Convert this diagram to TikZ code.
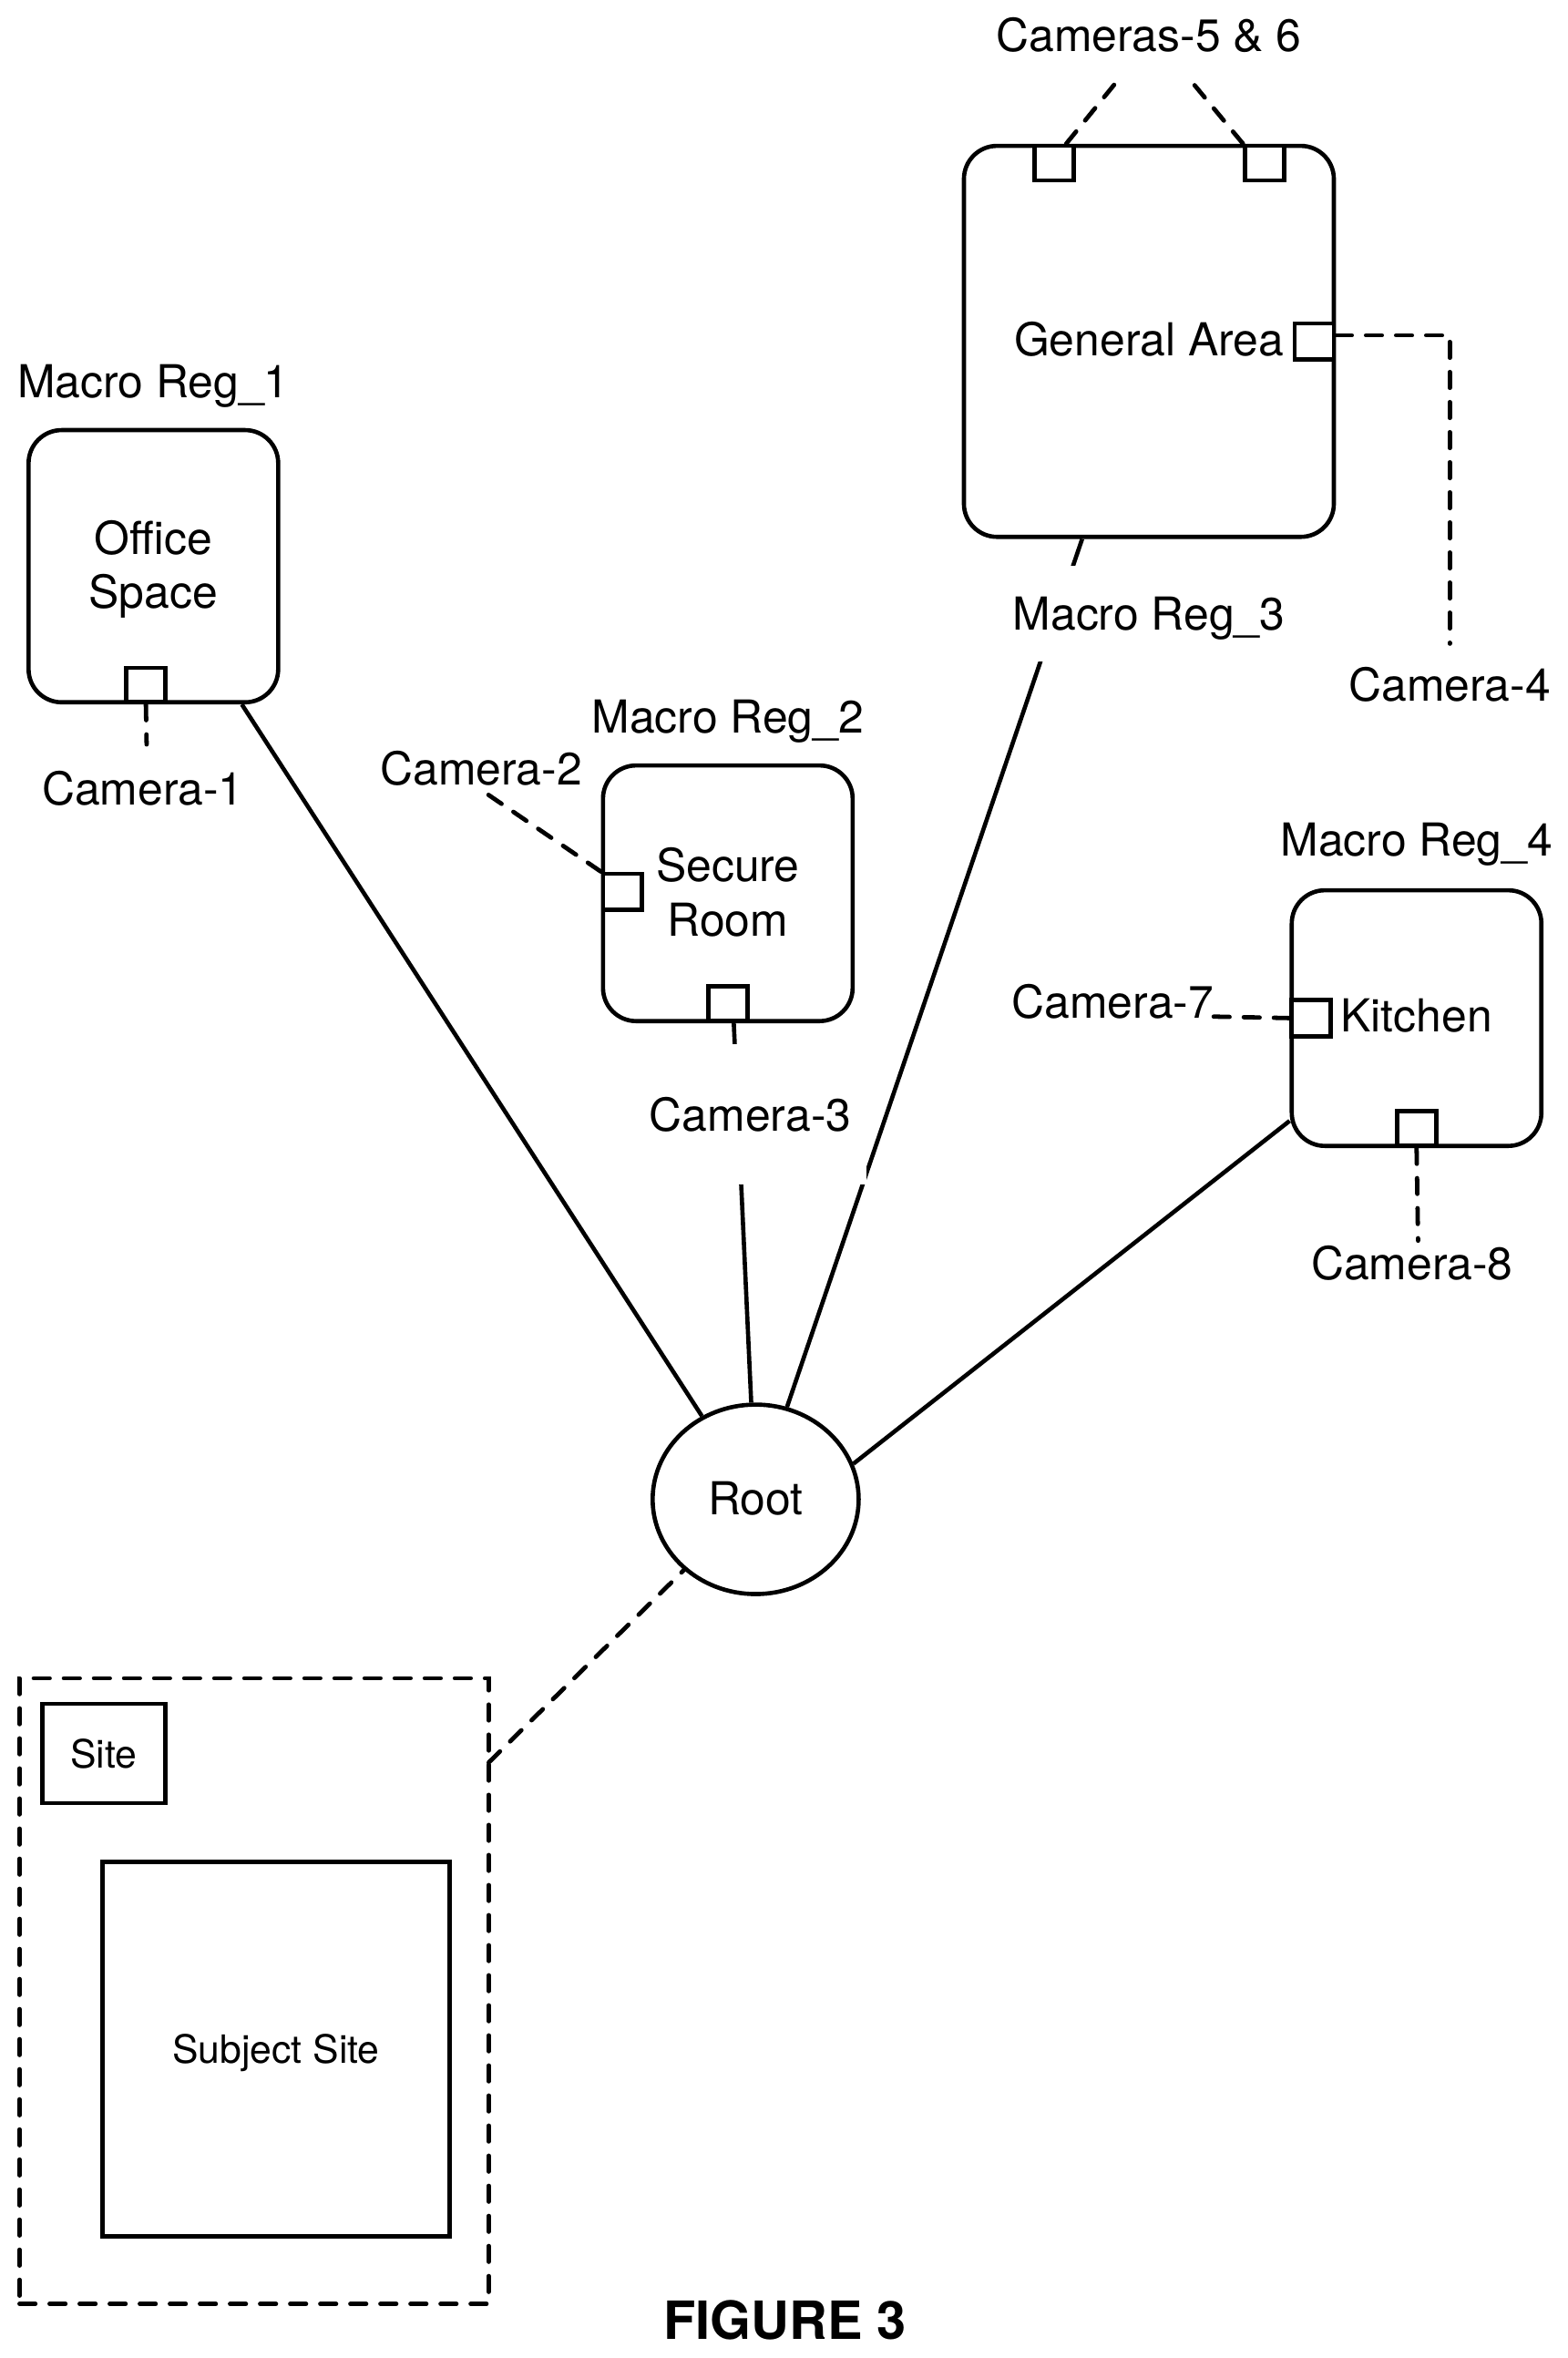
\documentclass[tikz,border=0pt]{standalone}
\usepackage{fontspec}
\setmainfont{TeX Gyre Heros}
\usetikzlibrary{shapes.geometric, positioning}

\tikzset{
    every node/.style={font=\fontsize{30.2}{36}\selectfont},
    macrobox/.style={draw, rounded corners=22pt, line width=2.8pt, align=center, inner sep=0pt},
    camerabox/.style={draw, fill=white, line width=2.8pt, minimum width=26pt, minimum height=23pt, inner sep=0pt},
    sitebox/.style={draw, line width=2.8pt, inner sep=0pt, font=\fontsize{25.9}{30}\selectfont},
    caption/.style={inner sep=0pt, text height=28pt, text depth=6pt},
    link/.style={line width=2.8pt},
    dashlink/.style={line width=2.9pt, line cap=round, dash pattern=on 10.5pt off 9.5pt}
}

\begin{document}
\begin{tikzpicture}[x=1pt, y=-1pt]
        \useasboundingbox (0,0) rectangle (1042.7,1568);
        % regions and root
        \node[macrobox, minimum width=166pt, minimum height=181pt] (reg_1) at (102,376.5) {\rule{0pt}{27pt}Office\\Space};
        \node[macrobox, minimum width=166pt, minimum height=170pt] (reg_2) at (484,594) {Secure\\Room\rule[-2pt]{0pt}{2pt}};
        \node[macrobox, text depth=3pt, minimum width=246pt, minimum height=260pt] (reg_3) at (764,227) {General Area};
        \node[macrobox, text depth=4pt, minimum width=166pt, minimum height=170pt] (reg_4) at (942,677) {Kitchen};
        \node[draw, ellipse, line width=2.8pt, text depth=2pt, minimum width=137pt, minimum height=126pt, inner sep=0pt] (root) at (502.5,997) {Root};
        % cameras
        \node[camerabox, anchor=south] (cam_1) at ([xshift=-5pt]reg_1.south) {};
        \node[camerabox, anchor=west, minimum height=24pt] (cam_2) at ([yshift=1pt]reg_2.west) {};
        \node[camerabox, anchor=south] (cam_3) at (reg_2.south) {};
        \node[camerabox, anchor=east, minimum height=24pt] (cam_4) at (reg_3.east) {};
        \node[camerabox, anchor=north] (cam_5) at ([xshift=-63pt]reg_3.north) {};
        \node[camerabox, anchor=north] (cam_6) at ([xshift=77pt]reg_3.north) {};
        \node[camerabox, anchor=west, minimum height=24pt] (cam_7) at (reg_4.west) {};
        \node[camerabox, anchor=south] (cam_8) at (reg_4.south) {};
        % site group
        \node[draw, dashlink, minimum width=312pt, minimum height=416pt] (site_group) at (169,1324) {};
        \node[sitebox, text height=20pt, minimum width=82pt, minimum height=66pt] (site) at (69,1166) {Site};
        \node[sitebox, text depth=0pt, minimum width=231pt, minimum height=249pt] (subject) at (183.5,1362.5) {Subject Site};
        % free ends
        \coordinate (site_end) at (325,1172);
        \coordinate (cam_1_end) at (97.5,495);
        \coordinate (cam_2_end) at (324,528);
        \coordinate (cam_4_end) at (964,428);
        \coordinate (cam_5_end) at (742,55);
        \coordinate (cam_6_end) at (793,55);
        \coordinate (cam_7_end) at (807,676);
        \coordinate (cam_8_end) at (943,825);
        \path[link]
                (reg_1) edge (root)
                (reg_2) edge (root)
                (reg_3) edge (root)
                (reg_4.-141.5) edge (root.20);
        \path[dashlink]
                (cam_1.south) edge (cam_1_end)
                (cam_2.north west) edge (cam_2_end)
                ([xshift=8pt]cam_5.north) edge (cam_5_end)
                (cam_6.north west) edge (cam_6_end)
                (cam_7.west) edge (cam_7_end)
                (cam_8.south) edge (cam_8_end)
                (site_end) edge (root);
        \draw[dashlink] ([yshift=4pt]cam_4.east) -| (cam_4_end);
        % labels
        \node[caption] (macro_1) [above=14pt of reg_1] {Macro Reg\_1};
        \node[caption] (macro_2) [above=14pt of reg_2] {Macro Reg\_2};
        \node[caption, fill=white, inner xsep=8pt, minimum height=64pt] (macro_3) at (764,408) {Macro Reg\_3};
        \node[caption] (macro_4) [above=15pt of reg_4] {Macro Reg\_4};
        \node[caption] (label_1) at (95,524) {Camera-1};
        \node[caption] (label_2) at (320,511) {Camera-2};
        \node[caption, fill=white, minimum width=154pt, minimum height=93pt] (label_3) at (499,741) {Camera-3};
        \node[caption] (label_4) at (964,455) {Camera-4};
        \node[caption] (label_56) at (764,23) {Cameras-5 \& 6};
        \node[caption] (label_7) at (740,666) {Camera-7};
        \node[caption] (label_8) at (939,840) {Camera-8};
        \node[inner sep=0pt, font=\fontsize{35}{40}\selectfont\bfseries] (figure_3) at (522,1543) {FIGURE 3};
    \end{tikzpicture}
\end{document}
